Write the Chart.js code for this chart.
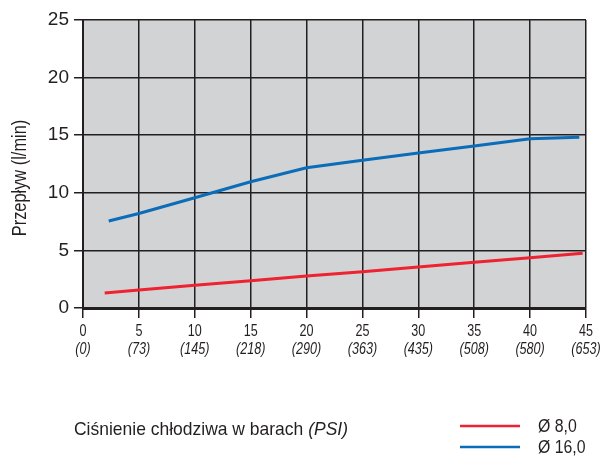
<!DOCTYPE html>
<html lang="pl">
<head>
<meta charset="UTF-8">
<title>Przepływ chłodziwa</title>
<script src="https://cdn.jsdelivr.net/npm/chart.js"></script>
<style>
    html, body { margin: 0; padding: 0; background: #fff; }
    #wrap { width: 604px; height: 458px; position: relative; }
</style>
</head>
<body>
<div id="wrap"><canvas id="flowChart"></canvas></div>
<script>
// pressure in bar, flow in l/min
const bar8 = [1.94, 5, 10, 15, 20, 25, 30, 35, 40, 44.7];
const flow8 = [1.30, 1.56, 1.97, 2.37, 2.78, 3.15, 3.56, 3.97, 4.37, 4.75];
const bar16 = [2.3, 5, 10, 15, 20, 25, 30, 35, 40, 44.4];
const flow16 = [7.55, 8.2, 9.57, 10.96, 12.18, 12.82, 13.45, 14.06, 14.70, 14.82];

const xTicks = [0, 5, 10, 15, 20, 25, 30, 35, 40, 45];
const psiLabels = ['(0)', '(73)', '(145)', '(218)', '(290)', '(363)', '(435)', '(508)', '(580)', '(653)'];
const seriesNames = ['Ø 8,0', 'Ø 16,0'];
const seriesColors = ['#ee2230', '#0b6cb8'];

const sansFont = '"Liberation Sans", Arial, sans-serif';
const inkColor = '#231f20';

const toPoints = (xs, ys) => xs.map((x, i) => ({ x: x, y: ys[i] }));

// grey plot background
const plotBg = {
    id: 'plotBg',
    beforeDraw(chart) {
        const a = chart.chartArea, c = chart.ctx;
        c.save();
        c.fillStyle = '#d1d3d5';
        c.fillRect(a.left, a.top, a.right - a.left, a.bottom - a.top);
        c.restore();
    }
};

// condensed text: squeeze along the writing direction around the anchor
function narrowText(c, text, x, y, font, squeeze, angle) {
    c.save();
    c.translate(x, y);
    if (angle) c.rotate(angle);
    c.scale(squeeze, 1);
    c.font = font;
    c.fillText(text, 0, 0);
    const w = c.measureText(text).width * squeeze;
    c.restore();
    return w;
}

// bar and PSI labels under the ticks, axis titles and the legend
const extras = {
    id: 'extras',
    afterDraw(chart) {
        const c = chart.ctx, xs = chart.scales.x;
        c.save();
        c.fillStyle = inkColor;
        c.textBaseline = 'middle';
        c.textAlign = 'center';
        xTicks.forEach((v, i) => {
            const px = xs.getPixelForValue(v);
            narrowText(c, String(v), px, 331, '17px ' + sansFont, 0.74);
            narrowText(c, psiLabels[i], px, 349, 'italic 17px ' + sansFont, 0.74);
        });

        // y title
        narrowText(c, 'Przepływ (l/min)', 20, 178, '21px ' + sansFont, 0.78, -Math.PI / 2);

        // x title, PSI part in italics
        c.textAlign = 'left';
        const w = narrowText(c, 'Ciśnienie chłodziwa w barach ', 74, 430, '19px ' + sansFont, 0.92);
        narrowText(c, '(PSI)', 74 + w, 430, 'italic 19px ' + sansFont, 0.92);

        // legend
        chart.data.datasets.forEach((ds, i) => {
            const y = 426 + i * 21;
            c.strokeStyle = ds.borderColor;
            c.lineWidth = 2.5;
            c.beginPath();
            c.moveTo(460, y);
            c.lineTo(520, y);
            c.stroke();
            c.fillStyle = inkColor;
            narrowText(c, ds.label, 538, y + 1, '18px ' + sansFont, 0.88);
        });
        c.restore();
    }
};

new Chart(document.getElementById('flowChart'), {
    type: 'line',
    data: {
        datasets: [
            {
                label: seriesNames[0],
                data: toPoints(bar8, flow8),
                borderColor: seriesColors[0],
                borderWidth: 3,
                pointRadius: 0,
                tension: 0
            },
            {
                label: seriesNames[1],
                data: toPoints(bar16, flow16),
                borderColor: seriesColors[1],
                borderWidth: 3,
                pointRadius: 0,
                tension: 0
            }
        ]
    },
    options: {
        responsive: true,
        maintainAspectRatio: false,
        animation: false,
        events: [],
        layout: { padding: { top: 20, right: 18, left: 0, bottom: 0 } },
        plugins: {
            legend: { display: false },
            tooltip: { enabled: false }
        },
        scales: {
            x: {
                type: 'linear',
                min: 0,
                max: 45,
                afterFit(scale) { scale.height = 150; },
                afterBuildTicks(scale) { scale.ticks = xTicks.map(v => ({ value: v })); },
                grid: { color: inkColor, lineWidth: 1.5, tickLength: 10 },
                border: { color: inkColor, width: 3 },
                ticks: {
                    // labels are drawn condensed by the extras plugin
                    color: 'rgba(0,0,0,0)',
                    padding: 5,
                    maxRotation: 0,
                    autoSkip: false,
                    font: { family: sansFont, size: 14 }
                }
            },
            y: {
                min: 0,
                max: 25,
                afterFit(scale) { scale.width = 83; },
                grid: { color: inkColor, lineWidth: 1.5, tickLength: 9 },
                border: { color: inkColor, width: 2 },
                ticks: {
                    stepSize: 5,
                    color: inkColor,
                    padding: 5,
                    font: { family: sansFont, size: 19 }
                }
            }
        }
    },
    plugins: [plotBg, extras]
});
</script>
</body>
</html>
